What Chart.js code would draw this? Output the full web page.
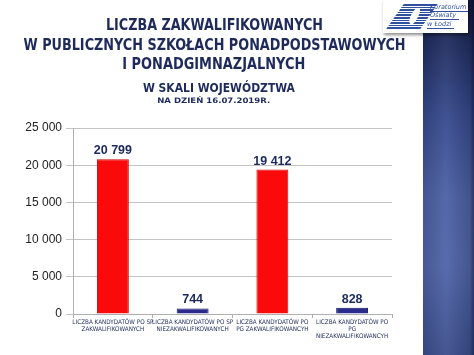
<!DOCTYPE html>
<html>
<head>
<meta charset="utf-8">
<script src="https://cdn.jsdelivr.net/npm/chart.js@4.4.1/dist/chart.umd.min.js"></script>
<style>
  html,body{margin:0;padding:0;background:#fff;}
  body{width:474px;height:355px;position:relative;overflow:hidden;font-family:"DejaVu Sans Condensed","DejaVu Sans","Liberation Sans",sans-serif;}
  #band{position:absolute;left:423px;top:0;width:51px;height:355px;
    background:
      linear-gradient(to right, rgba(0,0,0,0.10) 0%, rgba(255,255,255,0.06) 45%, rgba(0,0,0,0.12) 92%, rgba(0,0,20,0.45) 100%),
      linear-gradient(to bottom,#141b40 0%,#1f2c5e 12%,#34478a 32%,#4a5fa2 55%,#4e63a6 75%,#3a4d8c 100%);}
  canvas{position:absolute;left:0;top:0;}
  .t{position:absolute;left:0;width:428px;text-align:center;color:#1e2a5a;font-weight:bold;white-space:nowrap;line-height:1;}
  .t span{display:inline-block;transform-origin:center center;}
  #logo{position:absolute;left:383px;top:0px;width:85px;height:33px;background:#fff;box-shadow:1px 2px 3px rgba(0,0,0,0.45);overflow:hidden;}
  #stripes{position:absolute;left:12px;top:4px;width:34px;height:25px;transform:skewX(-35deg);
    background:repeating-linear-gradient(to bottom,#2f4f9f 0px,#2f4f9f 1.6px,#ffffff 1.6px,#ffffff 2.6px);}
  #flame{position:absolute;left:28px;top:7px;width:7px;height:18px;background:#fff;border-radius:60% 40% 50% 50%;transform:rotate(25deg);}
  .lt{position:absolute;left:47px;font-family:"DejaVu Sans","Liberation Sans",sans-serif;font-style:italic;font-size:6.5px;color:#3050a0;line-height:1;border-bottom:0.8px solid #3050a0;padding-right:3px;}
</style>
</head>
<body>
<canvas id="c" width="474" height="355"></canvas>
<div id="band"></div>
<div id="logo">
  <div id="stripes"></div>
  <div id="flame"></div>
  <div class="lt" style="top:4px;">Kuratorium</div>
  <div class="lt" style="top:12px;">Oświaty</div>
  <div class="lt" style="top:21px;left:44px;">w Łodzi</div>
</div>
<div class="t" style="top:17px;font-size:16px;"><span data-w="217">LICZBA ZAKWALIFIKOWANYCH</span></div>
<div class="t" style="top:37px;font-size:16px;"><span data-w="382">W PUBLICZNYCH SZKOŁACH PONADPODSTAWOWYCH</span></div>
<div class="t" style="top:56px;font-size:16px;"><span data-w="183">I PONADGIMNAZJALNYCH</span></div>
<div class="t" style="top:83px;font-size:11.5px;left:5px;"><span data-w="152">W SKALI WOJEWÓDZTWA</span></div>
<div class="t" style="top:97px;font-size:7.5px;"><span data-w="113">NA DZIEŃ 16.07.2019R.</span></div>
<script>
// ---- data ----
const categories = [
  ["LICZBA KANDYDATÓW PO SP", "ZAKWALIFIKOWANYCH"],
  ["LICZBA KANDYDATÓW PO SP", "NIEZAKWALIFIKOWANYCH"],
  ["LICZBA KANDYDATÓW PO", "PG ZAKWALIFIKOWANCYH"],
  ["LICZBA KANDYDATÓW PO", "PG", "NIEZAKWALIFIKOWANCYH"]
];
const values = [20799, 744, 19412, 828];
const barColors = ["#fa0a0a", "#2b2b8f", "#fa0a0a", "#2b2b8f"];
const barBorders = ["#c80000", "#15155a", "#c80000", "#15155a"];
const yTicks = [0, 5000, 10000, 15000, 20000, 25000];

function fmt(v){ return String(v).replace(/\B(?=(\d{3})+(?!\d))/g, " "); }

// fit title widths
document.querySelectorAll('.t span').forEach(s=>{
  const w = s.getBoundingClientRect().width;
  const target = parseFloat(s.dataset.w);
  s.style.transform = 'scaleX(' + (target / w) + ')';
});

const valueLabels = {
  id: 'valueLabels',
  afterDatasetsDraw(chart){
    const ctx = chart.ctx;
    const meta = chart.getDatasetMeta(0);
    ctx.save();
    ctx.font = 'bold 12.5px "Liberation Sans", sans-serif';
    ctx.fillStyle = '#1b2a5c';
    ctx.textAlign = 'center';
    ctx.textBaseline = 'alphabetic';
    meta.data.forEach((bar, i) => {
      ctx.fillText(fmt(values[i]), bar.x, bar.y - 5);
    });
    ctx.restore();
  }
};

new Chart(document.getElementById('c'), {
  type: 'bar',
  data: {
    labels: categories,
    datasets: [{
      data: values,
      backgroundColor: barColors,
      borderColor: barBorders,
      borderWidth: 1,
      barPercentage: 0.5,
      categoryPercentage: 0.8
    }]
  },
  options: {
    responsive: false,
    animation: false,
    devicePixelRatio: 1,
    layout: { padding: { top: 128, right: 82, bottom: 0, left: 0 } },
    plugins: { legend: { display: false }, tooltip: { enabled: false }, title: { display: false } },
    scales: {
      x: {
        afterFit(scale){ scale.height = 41; },
        grid: { drawOnChartArea: false, drawTicks: true, tickLength: 4, color: '#b0b0b0', offset: true },
        border: { color: '#b0b0b0' },
        ticks: {
          color: '#1e2a5a', padding: 1, maxRotation: 0, autoSkip: false,
          font: { family: '"Liberation Sans Narrow","DejaVu Sans Condensed","Liberation Sans",sans-serif', size: 6.3, weight: 'normal', lineHeight: 1.12 }
        }
      },
      y: {
        min: 0, max: 25000,
        afterFit(scale){ scale.width = 73; },
        afterBuildTicks(scale){ scale.ticks = yTicks.map(v => ({ value: v })); },
        grid: { color: '#c4c4c4', tickLength: 7, drawTicks: true },
        border: { color: '#b0b0b0' },
        ticks: {
          color: '#222', padding: 4,
          font: { family: '"Liberation Sans", sans-serif', size: 12 },
          callback: v => fmt(v)
        }
      }
    }
  },
  plugins: [valueLabels]
});
</script>
</body>
</html>
